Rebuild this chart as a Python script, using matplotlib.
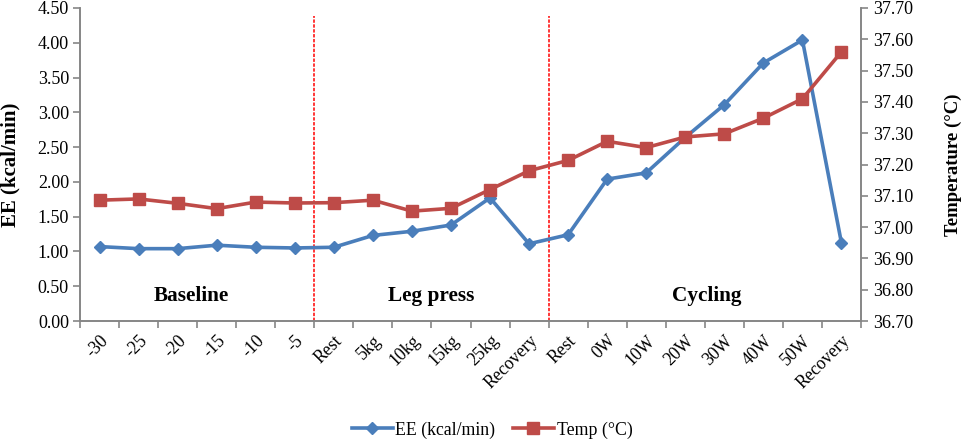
import numpy as np
import matplotlib.pyplot as plt
from matplotlib.lines import Line2D

plt.rcParams['font.family'] = ['Liberation Serif', 'DejaVu Serif']

# categorie (asse x) e serie
labels = ["-30", "-25", "-20", "-15", "-10", "-5", "Rest", "5kg", "10kg", "15kg",
          "25kg", "Recovery", "Rest", "0W", "10W", "20W", "30W", "40W", "50W", "Recovery"]
ee = [1.07, 1.04, 1.04, 1.09, 1.06, 1.05, 1.06, 1.23, 1.29, 1.38,
      1.77, 1.11, 1.24, 2.04, 2.13, 2.64, 3.11, 3.71, 4.04, 1.12]
temp = [37.086, 37.090, 37.076, 37.059, 37.080, 37.077, 37.078, 37.086, 37.051, 37.060,
        37.120, 37.180, 37.213, 37.274, 37.254, 37.288, 37.298, 37.348, 37.410, 37.560]
phases = [("Baseline", 2.35), ("Leg press", 8.5), ("Cycling", 15.55)]
bounds = [5.5, 11.5]

BLUE = "#4A7EBB"; RED = "#BE4B48"; GREY = "#868686"
x = np.arange(len(labels))

fig = plt.figure(figsize=(9.65, 4.42), dpi=100)
ax = fig.add_axes([80/965, 1-321/442, 781/965, 313/442])
ax2 = ax.twinx()

ax.plot(x, ee, color=BLUE, lw=2.6, marker="D", ms=6.5, zorder=3)
ax2.plot(x, temp, color=RED, lw=2.6, marker="s", ms=8, zorder=3)

for b in bounds:
    ax.plot([b, b], [0, 4.38], color="red", ls=(0, (2.2, 1.0)), lw=1.1, zorder=2)
for name, px in phases:
    ax.text(px, 0.36, name, ha="center", va="center", fontsize=15.3, fontweight="bold")

ax.set_xlim(-0.5, len(labels) - 0.5)
ax.set_ylim(0, 4.5)
ax.set_yticks(np.arange(0, 4.51, 0.5))
ax.set_yticklabels([f"{v:.2f}" for v in np.arange(0, 4.51, 0.5)], fontsize=13)
ax2.set_ylim(36.7, 37.7)
ax2.set_yticks(np.arange(36.7, 37.71, 0.1))
ax2.set_yticklabels([f"{v:.2f}" for v in np.arange(36.7, 37.71, 0.1)], fontsize=13)

ax.set_xticks(np.arange(-0.5, len(labels), 1.0))
ax.set_xticklabels([])
ax.set_xticks(x, minor=True)
ax.set_xticklabels(labels, minor=True, rotation=45, ha="right", rotation_mode="anchor", fontsize=12.8)
ax.tick_params(axis="x", which="minor", length=0, pad=8)
ax.tick_params(axis="x", which="major", length=5, color=GREY, width=1.2)
ax.tick_params(axis="y", length=5, color=GREY, width=1.2, pad=3)
ax2.tick_params(axis="y", length=5, color=GREY, width=1.2, pad=4)

for a in (ax, ax2):
    a.spines["top"].set_visible(False)
    for s in ("left", "right", "bottom"):
        a.spines[s].set_color(GREY)
        a.spines[s].set_linewidth(1.2)

ax.set_ylabel("EE (kcal/min)", fontsize=15, fontweight="bold")
ax.yaxis.set_label_coords(-(80 - 20)/781, 0.5)
ax2.set_ylabel("Temperature (°C)", fontsize=13.5, fontweight="bold")
ax2.yaxis.set_label_coords(1 + (945 - 861)/781, 0.5)

handles = [Line2D([], [], color=BLUE, lw=2.6, marker="D", ms=6.5),
           Line2D([], [], color=RED, lw=2.6, marker="s", ms=8)]
fig.legend(handles, ["EE (kcal/min)", "Temp (°C)"], loc="center", bbox_to_anchor=(492/965, 1-430/442),
           ncol=2, frameon=False, fontsize=12.8, handlelength=2.3, columnspacing=1.0, handletextpad=0.15)

fig.savefig("out.png", dpi=100)
